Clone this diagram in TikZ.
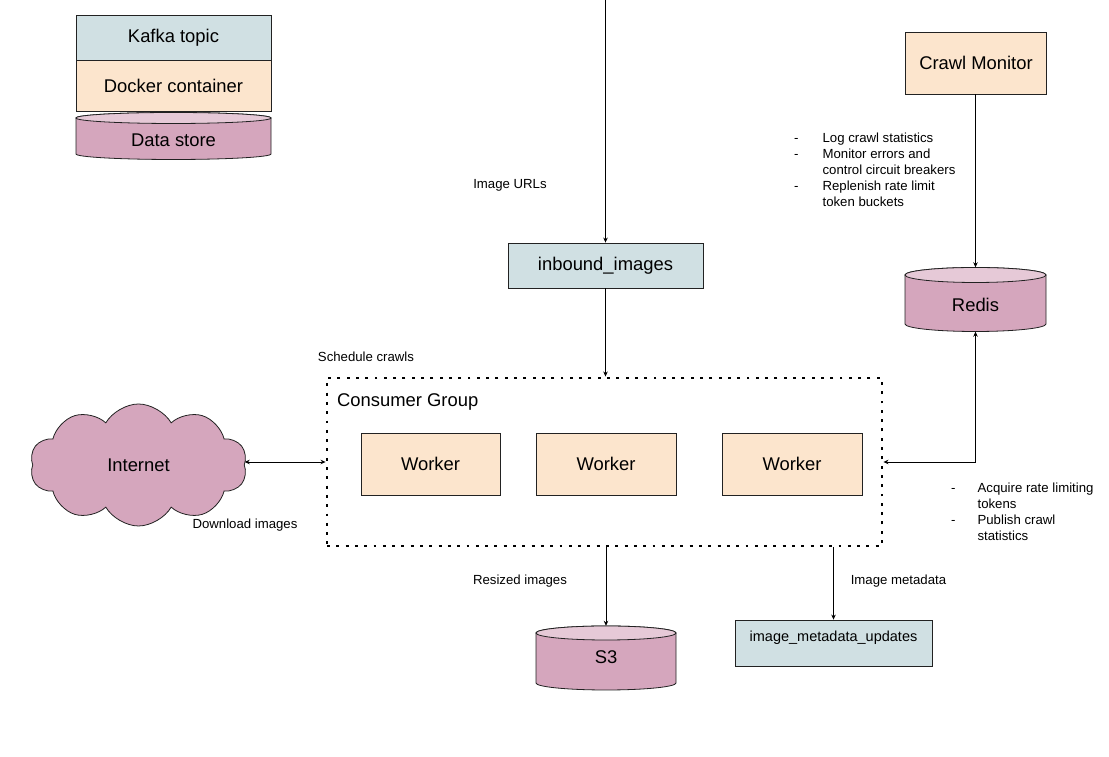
\documentclass[tikz,border=0pt]{standalone}
\usepackage{fontspec}
\setmainfont{Liberation Sans}
\usetikzlibrary{shapes.symbols,shapes.geometric,arrows.meta}
\definecolor{kafka}{HTML}{D0E0E3}
\definecolor{docker}{HTML}{FCE5CD}
\definecolor{store}{HTML}{D5A6BD}
\definecolor{storetop}{HTML}{E6C9D7}
\definecolor{edge}{HTML}{222222}
\newcommand{\bigfont}{\fontsize{18.4}{22}\selectfont}
\newcommand{\smallfont}{\fontsize{13.2}{16}\selectfont}
\newcommand{\metafont}{\fontsize{14.5}{17}\selectfont}
% #1 name, #2 cx, #3 rx, #4 top-centre Y, #5 bottom-centre Y, #6 ry
\newcommand{\dbcyl}[6]{%
  \path[fill=store,draw=edge,line width=0.8pt] (#2-#3,#4) -- (#2-#3,#5)
    arc[start angle=180,end angle=360,x radius=#3pt,y radius=#6pt]
    -- (#2+#3,#4) arc[start angle=0,end angle=180,x radius=#3pt,y radius=#6pt] -- cycle;
  \draw[fill=storetop,draw=edge,line width=0.8pt] (#2,#4) ellipse[x radius=#3pt,y radius=#6pt];
  \node[inner sep=0pt,minimum width=2*#3pt,minimum height={#4-#5+2*#6}] (#1) at (#2,{(#4+#5)/2}) {};
}
\tikzset{
  box/.style={draw=edge,line width=0.8pt,inner sep=0pt,font=\bigfont},
  topicbox/.style={box,fill=kafka},
  dockerbox/.style={box,fill=docker},
  lbl/.style={inner sep=0pt,font=\smallfont},
  arr/.style={draw=black,line width=0.8pt,-{Stealth[length=5pt,width=4.5pt]}},
  biarr/.style={draw=black,line width=0.8pt,{Stealth[length=5pt,width=4.5pt]}-{Stealth[length=5pt,width=4.5pt]}},
  group/.style={draw=black,line width=2.9pt,dash pattern=on 2.9pt off 6.4pt,inner sep=0pt}
}
\begin{document}
\begin{tikzpicture}[x=1pt,y=1pt]
\useasboundingbox (0,0) rectangle (1109,757);
\fill[white] (0,0) rectangle (1109,757);

% legend
\node[topicbox,minimum width=195pt,minimum height=45pt] (legkafka) at (173.5,719.5) {Kafka topic};
\node[dockerbox,minimum width=195pt,minimum height=51pt] (legdocker) at (173.5,671.5) {Docker container};
\dbcyl{legstore}{173.5}{97.5}{639}{603}{5.5}
\node[inner sep=0pt,font=\bigfont] (legstorelbl) at (173.5,617) {Data store};

% crawl monitor and redis
\node[dockerbox,minimum width=141pt,minimum height=62pt] (monitor) at (976,694) {Crawl Monitor};
\dbcyl{redis}{975.5}{70.5}{482}{433}{7.5}
\node[inner sep=0pt,font=\bigfont] (redislbl) at (975.5,452) {Redis};

\node[lbl,anchor=base west] (monitorlist) at (794,614.5) {%
  \begin{tabular}[t]{@{}l@{\hspace{24pt}}l@{}}
  - & Log crawl statistics\\
  - & Monitor errors and\\
    & control circuit breakers\\
  - & Replenish rate limit\\
    & token buckets
  \end{tabular}};

% inbound topic
\coordinate (topin) at (605,757);
\node[topicbox,minimum width=195pt,minimum height=45pt] (inbound) at (605.5,491.5) {inbound\_images};
\node[lbl] (urls) at (510,572) {Image URLs};

% consumer group
\node[group,minimum width=555pt,minimum height=168pt] (group) at (604.5,295) {};
\node[inner sep=0pt,anchor=west,font=\bigfont] (grouplbl) at (337,355) {Consumer Group};
\node[lbl] (sched) at (366,400) {Schedule crawls};
\node[dockerbox,minimum width=139pt,minimum height=62pt] (w1) at (430.5,293) {Worker};
\node[dockerbox,minimum width=140pt,minimum height=62pt] (w2) at (606,293) {Worker};
\node[dockerbox,minimum width=140pt,minimum height=62pt] (w3) at (792,293) {Worker};

% internet
\node[cloud,cloud puffs=10,cloud puff arc=120,aspect=1.8,draw=edge,line width=0.8pt,fill=store,
      minimum width=217pt,minimum height=122pt,inner sep=0pt,font=\bigfont] (internet) at (138.5,292) {Internet};
\node[lbl] (download) at (245,232) {Download images};

\node[lbl,anchor=base west] (workerlist) at (951,264.5) {%
  \begin{tabular}[t]{@{}l@{\hspace{22pt}}l@{}}
  - & Acquire rate limiting\\
    & tokens\\
  - & Publish crawl\\
    & statistics
  \end{tabular}};

% outputs
\dbcyl{s3}{606}{70}{124}{74}{7}
\node[inner sep=0pt,font=\bigfont] (s3lbl) at (606,100) {S3};
\node[lbl] (resized) at (520,176) {Resized images};
\node[draw=edge,line width=0.8pt,fill=kafka,minimum width=197pt,minimum height=46pt,inner sep=0pt] (meta) at (833.5,114) {};
\node[inner sep=0pt,font=\metafont] (metalbl) at (833.5,119) {image\_metadata\_updates};
\node[lbl] (metadata) at (898.5,176) {Image metadata};

% connectors
\draw[arr] (inbound.north |- topin) -- (inbound.north);
\draw[arr] (inbound.south) -- (inbound.south |- group.north);
\draw[arr] (monitor.south -| redis.north) -- (redis.north);
\draw[biarr] (redis.south) |- (group.east);
\draw[biarr] (internet.east |- group.west) -- (group.west);
\draw[arr] (group.south -| s3.north) -- (s3.north);
\draw[arr] (group.south -| meta.north) -- (meta.north);
\end{tikzpicture}
\end{document}
